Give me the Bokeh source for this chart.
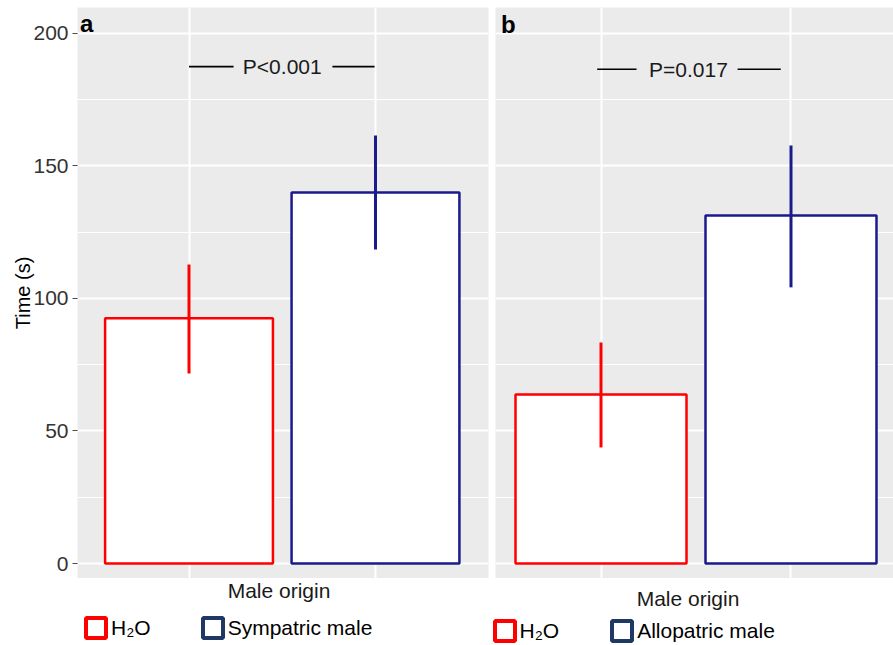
from bokeh.plotting import figure
from bokeh.layouts import row, column
from bokeh.models import Range1d, FixedTicker, Label, Legend, LegendItem
from bokeh.embed import file_html
from bokeh.resources import INLINE
from bokeh.core.properties import value

# ---------------- data ----------------
groups_a = ["H₂O", "Sympatric male"]
means_a = [92.5, 140.0]
lower_a = [71.7, 118.5]
upper_a = [112.8, 161.5]

groups_b = ["H₂O", "Allopatric male"]
means_b = [63.8, 131.3]
lower_b = [43.8, 104.2]
upper_b = [83.4, 157.7]

p_text_a = "P<0.001"
p_text_b = "P=0.017"
panel_tags = ["a", "b"]
x_title = "Male origin"
y_title = "Time (s)"
y_ticks = [0, 50, 100, 150, 200]
y_minor = [25, 75, 125, 175]

# ---------------- style ----------------
FONT = "Liberation Sans"
FS = "21px"
BAR_COLORS = ["#FF0000", "#1A1A8C"]
LEG_COLORS = ["#FF0000", "#203864"]
PANEL_BG = "#EBEBEB"
Y_RANGE = (-5.66, 209.8)
W_TOTAL = 893
NAN = float("nan")


def make_panel(groups, means, lower, upper, ptext, tag, x_range, width,
               left_border, show_y, bracket, tag_pos):
    p = figure(width=width, height=578, output_backend="svg", toolbar_location=None,
               x_range=Range1d(*x_range), y_range=Range1d(*Y_RANGE),
               x_axis_location=None, y_axis_location="left" if show_y else None,
               min_border_left=left_border, min_border_right=2 if show_y else 0,
               min_border_top=7, min_border_bottom=0)
    p.background_fill_color = PANEL_BG
    p.border_fill_color = "white"
    p.outline_line_color = None

    xs = [i + 1 for i in range(len(groups))]

    p.xgrid.ticker = FixedTicker(ticks=xs)
    p.xgrid.grid_line_color = "white"
    p.xgrid.grid_line_width = 2
    p.ygrid.ticker = FixedTicker(ticks=y_ticks, minor_ticks=y_minor)
    p.ygrid.grid_line_color = "white"
    p.ygrid.grid_line_width = 2
    p.ygrid.minor_grid_line_color = "white"
    p.ygrid.minor_grid_line_width = 1

    if show_y:
        ax = p.yaxis[0]
        ax.ticker = FixedTicker(ticks=y_ticks, minor_ticks=y_minor)
        ax.axis_line_color = None
        ax.major_tick_in = 0
        ax.major_tick_out = 5
        ax.major_tick_line_color = "#4D4D4D"
        ax.minor_tick_in = 0
        ax.minor_tick_out = 0
        ax.major_label_text_font = FONT
        ax.major_label_text_font_size = FS
        ax.major_label_text_color = "#333333"
        ax.major_label_standoff = 4
        ax.axis_label = y_title
        ax.axis_label_text_font = FONT
        ax.axis_label_text_font_size = "20px"
        ax.axis_label_text_font_style = "normal"
        ax.axis_label_text_color = "black"
        ax.axis_label_standoff = -4

    # bars
    p.vbar(x=xs, top=means, bottom=0, width=0.9, fill_color="white",
           line_color=BAR_COLORS, line_width=2.5)
    # error bars
    p.segment(x0=xs, y0=lower, x1=xs, y1=upper, line_color=BAR_COLORS, line_width=3)

    # significance bracket
    (l0, l1, t, r0, r1, yb) = bracket
    p.segment(x0=[l0, r0], y0=[yb, yb], x1=[l1, r1], y1=[yb, yb],
              line_color="black", line_width=1.6)
    p.text(x=[t], y=[yb], text=[ptext], text_align="center", text_baseline="middle",
           text_font=value(FONT), text_font_size=FS, text_color="#1A1A1A")

    # panel tag
    p.add_layout(Label(x=tag_pos[0], y=tag_pos[1], x_units="screen", y_units="screen",
                       text=tag, text_font=FONT, text_font_size="24px",
                       text_font_style="bold", text_color="black",
                       text_baseline="bottom"))
    return p


def add_footer_part(f, groups, xlab_pos, leg_loc, leg_spacing):
    f.add_layout(Label(x=xlab_pos[0], y=xlab_pos[1], x_units="screen", y_units="screen",
                       text=x_title, text_font=FONT, text_font_size=FS,
                       text_color="#1A1A1A", text_align="center",
                       text_baseline="bottom"))
    items = []
    for g, c in zip(groups, LEG_COLORS):
        # legend key proxy (NaN data, so nothing is drawn in the strip itself)
        r = f.vbar(x=[NAN], top=[NAN], bottom=[NAN], width=0.9,
                   fill_color="white", line_color=c, line_width=4)
        items.append(LegendItem(label=g, renderers=[r]))
    lg = Legend(items=items, orientation="horizontal", location=leg_loc,
                glyph_width=25, glyph_height=25, label_standoff=3, spacing=leg_spacing,
                padding=0, margin=0, border_line_alpha=0, background_fill_alpha=0,
                label_text_font=FONT, label_text_font_size=FS,
                label_text_color="black", label_height=20)
    f.add_layout(lg)


pa = make_panel(groups_a, means_a, lower_a, upper_a, p_text_a, panel_tags[0],
                x_range=(0.402, 2.606), width=490, left_border=77, show_y=True,
                bracket=(1.0, 1.239, 1.50, 1.769, 1.995, 187.5),
                tag_pos=(2.5, 542))
pb = make_panel(groups_b, means_b, lower_b, upper_b, p_text_b, panel_tags[1],
                x_range=(0.4447, 2.5395), width=403, left_border=5, show_y=False,
                bracket=(0.98, 1.187, 1.46, 1.719, 1.946, 186.5),
                tag_pos=(5.5, 541))

# footer strip holding the x titles and legends of both panels
footer = figure(width=W_TOTAL, height=67, output_backend="svg", toolbar_location=None,
                x_range=Range1d(0, 1), y_range=Range1d(0, 1),
                x_axis_location=None, y_axis_location=None,
                min_border_left=0, min_border_right=0, min_border_top=0,
                min_border_bottom=0)
footer.grid.visible = False
footer.outline_line_color = None
footer.background_fill_color = "white"
footer.border_fill_color = "white"

add_footer_part(footer, groups_a, xlab_pos=(278.5, 44), leg_loc=(83, 5), leg_spacing=49)
add_footer_part(footer, groups_b, xlab_pos=(687.5, 36), leg_loc=(491.5, 2), leg_spacing=50)

layout = column(row(pa, pb), footer)
open("out.html", "w").write(file_html(layout, INLINE))
